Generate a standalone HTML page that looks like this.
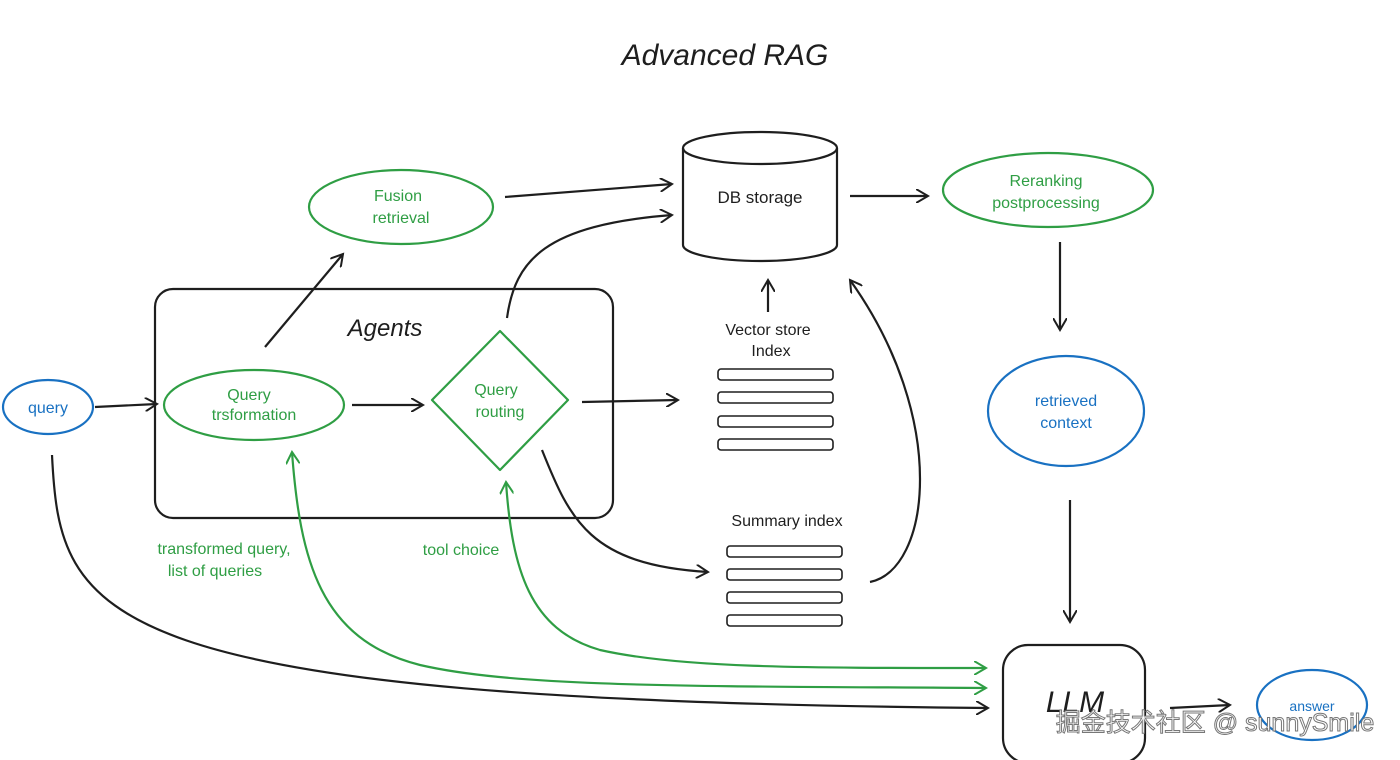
<!DOCTYPE html>
<html><head><meta charset="utf-8"><style>
html,body{margin:0;padding:0;background:#fff;}
svg{display:block}
text{font-family:"Liberation Sans","Noto Sans CJK SC",sans-serif;}
</style></head><body>
<svg width="1400" height="760" viewBox="0 0 1400 760" xmlns="http://www.w3.org/2000/svg">
<defs>
<marker id="a" markerWidth="14" markerHeight="14" refX="12" refY="7" orient="auto" markerUnits="userSpaceOnUse"><path d="M0,0 L12,7 L0,14" fill="none" stroke="#1e1e1e" stroke-width="2"/></marker>
<marker id="g" markerWidth="14" markerHeight="14" refX="12" refY="7" orient="auto-start-reverse" markerUnits="userSpaceOnUse"><path d="M0,0 L12,7 L0,14" fill="none" stroke="#2f9e44" stroke-width="2"/></marker>
</defs>
<text x="725" y="65" font-size="30" text-anchor="middle" fill="#1e1e1e" font-style="italic">Advanced RAG</text>
<g fill="none" stroke-width="2.2">
<ellipse cx="401" cy="207" rx="92" ry="37" stroke="#2f9e44"/>
<ellipse cx="1048" cy="190" rx="105" ry="37" stroke="#2f9e44"/>
<ellipse cx="254" cy="405" rx="90" ry="35" stroke="#2f9e44"/>
<path d="M500,331 L568,400 L500,470 L432,400 Z" stroke="#2f9e44" stroke-linejoin="round"/>
<ellipse cx="48" cy="407" rx="45" ry="27" stroke="#1971c2"/>
<ellipse cx="1066" cy="411" rx="78" ry="55" stroke="#1971c2"/>
<ellipse cx="1312" cy="705" rx="55" ry="35" stroke="#1971c2"/>
<rect x="155" y="289" width="458" height="229" rx="18" stroke="#1e1e1e"/>
<rect x="1003" y="645" width="142" height="118" rx="25" stroke="#1e1e1e"/>
<path d="M683,148 L683,245 A77,16 0 0 0 837,245 L837,148" stroke="#1e1e1e"/>
<ellipse cx="760" cy="148" rx="77" ry="16" stroke="#1e1e1e"/>
<g stroke="#1e1e1e" stroke-width="1.6">
<rect x="718" y="369" width="115" height="11" rx="3"/><rect x="718" y="392" width="115" height="11" rx="3"/><rect x="718" y="416" width="115" height="11" rx="3"/><rect x="718" y="439" width="115" height="11" rx="3"/>
<rect x="727" y="546" width="115" height="11" rx="3"/><rect x="727" y="569" width="115" height="11" rx="3"/><rect x="727" y="592" width="115" height="11" rx="3"/><rect x="727" y="615" width="115" height="11" rx="3"/>
</g>
<g stroke="#1e1e1e" marker-end="url(#a)">
<path d="M505,197 L672,184"/>
<path d="M850,196 L928,196"/>
<path d="M1060,242 L1060,330"/>
<path d="M1070,500 L1070,622"/>
<path d="M1170,708 L1230,705"/>
<path d="M95,407 L157,404"/>
<path d="M352,405 L423,405"/>
<path d="M582,402 L678,400"/>
<path d="M265,347 L343,254"/>
<path d="M507,318 C515,260 545,225 672,215"/>
<path d="M768,312 L768,280"/>
<path d="M542,450 C570,520 590,565 708,572"/>
<path d="M870,582 C930,570 950,420 850,280"/>
<path d="M52,455 C60,620 90,700 988,708"/>
</g>
<g stroke="#2f9e44" marker-end="url(#g)" marker-start="url(#g)">
<path d="M292,452 C300,560 320,640 420,665 C520,688 700,686 986,688"/>
<path d="M506,482 C512,570 530,630 600,650 C680,668 800,668 986,668"/>
</g>
</g>
<g font-size="16" text-anchor="middle" fill="#2f9e44">
<text x="398" y="201">Fusion</text><text x="401" y="223">retrieval</text>
<text x="1046" y="186">Reranking</text><text x="1046" y="208">postprocessing</text>
<text x="249" y="400">Query</text><text x="254" y="420">trsformation</text>
<text x="496" y="395">Query</text><text x="500" y="417">routing</text>
<text x="224" y="554">transformed query,</text><text x="215" y="576">list of queries</text>
<text x="461" y="555">tool choice</text>
</g>
<g font-size="16" text-anchor="middle" fill="#1971c2">
<text x="48" y="413">query</text>
<text x="1066" y="406">retrieved</text><text x="1066" y="428">context</text>
<text x="1312" y="711" font-size="14">answer</text>
</g>
<g text-anchor="middle" fill="#1e1e1e">
<text x="760" y="203" font-size="17">DB storage</text>
<text x="385" y="336" font-size="24" font-style="italic">Agents</text>
<text x="768" y="335" font-size="16">Vector store</text><text x="771" y="356" font-size="16">Index</text>
<text x="787" y="526" font-size="16">Summary index</text>
<text x="1075" y="712" font-size="30" font-style="italic">LLM</text>
</g>
<text x="1215" y="731" font-size="25" text-anchor="middle" fill="#fff" stroke="#777" stroke-width="1">掘金技术社区 @ sunnySmile</text>
</svg>
</body></html>
